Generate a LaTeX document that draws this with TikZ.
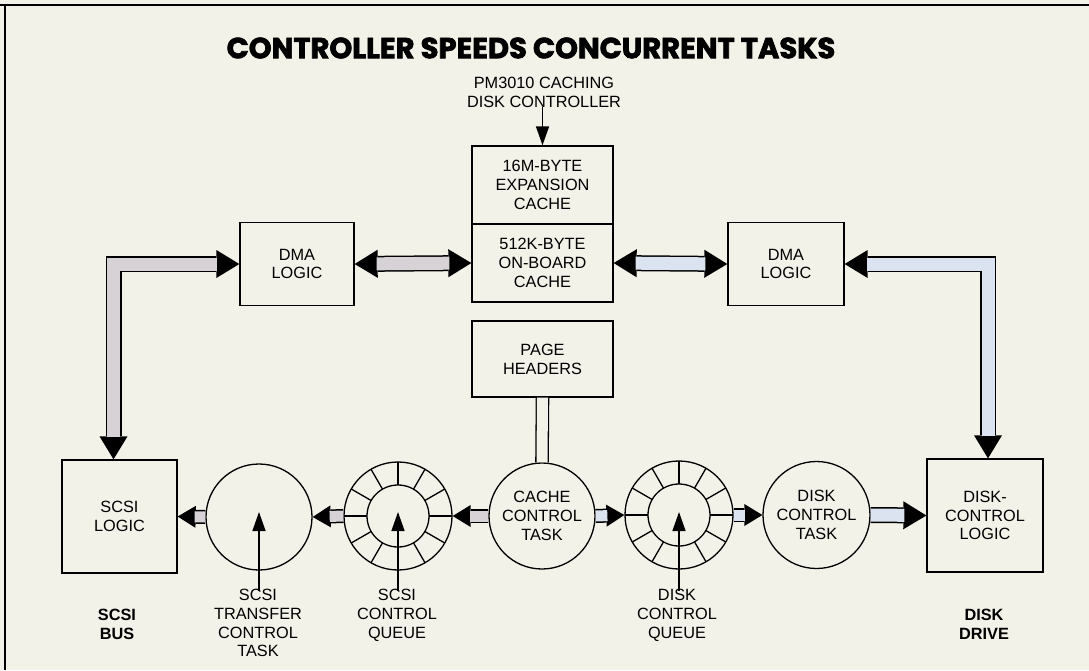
\documentclass[tikz,border=0pt]{standalone}
\usepackage{fontspec}
\setmainfont{Liberation Sans}
\newfontfamily\titlefont{Poppins}[BoldFeatures={FakeBold=2.5}]
\usetikzlibrary{arrows.meta,calc}
\definecolor{bgc}{RGB}{243,242,232}
\definecolor{busgray}{RGB}{214,210,214}
\definecolor{busblue}{RGB}{220,227,240}
\tikzset{
  lbl/.style={font=\fontsize{16.3}{18.8}\selectfont, align=center, inner sep=0pt},
  boldlbl/.style={font=\fontsize{16.3}{18.8}\selectfont\bfseries, align=center, inner sep=0pt},
  boxnode/.style={draw, line width=1.3pt, inner sep=0pt, align=center, font=\fontsize{16.3}{18.8}\selectfont},
  circnode/.style={draw, circle, line width=1.3pt, inner sep=0pt, align=center, font=\fontsize{16.3}{18.8}\selectfont},
  bigtip/.tip={Triangle[length=23pt,width=28pt,line width=0pt]},
  smalltip/.tip={Triangle[length=18pt,width=22pt,line width=0pt]},
  outbig/.style={draw=black, line width=16pt, line join=miter},
  inbig/.style={line width=13pt, line join=miter},
  outsmall/.style={draw=black, line width=14pt, line join=miter},
  insmall/.style={line width=11pt, line join=miter},
  ptr/.style={line width=1.4pt, -{Triangle[length=19pt,width=13pt]}},
}
\begin{document}
\begin{tikzpicture}[x=1pt,y=-1pt]
\fill[bgc] (0,0) rectangle (1089,670);
\useasboundingbox (0,0) rectangle (1089,670);
\draw[line width=2pt] (0,5) -- (1089,5);
\draw[line width=2pt] (5,5) -- (5,670);

% title
\node[font=\titlefont\fontsize{29}{32}\selectfont\bfseries, inner sep=0pt] (title) at (531,48) {CONTROLLER SPEEDS CONCURRENT TASKS};
\node[lbl] (pm) at (544,92) {PM3010 CACHING\\DISK CONTROLLER};

% boxes
\node[boxnode, minimum width=141pt, minimum height=78pt] (exp) at (542.5,185) {16M-BYTE\\EXPANSION\\CACHE};
\node[boxnode, minimum width=141pt, minimum height=78pt] (onb) at (542.5,263) {512K-BYTE\\ON-BOARD\\CACHE};
\node[boxnode, minimum width=114pt, minimum height=83pt] (dmaL) at (297,264) {DMA\\LOGIC};
\node[boxnode, minimum width=116pt, minimum height=83pt] (dmaR) at (786,264) {DMA\\LOGIC};
\node[boxnode, minimum width=141pt, minimum height=76pt] (ph) at (542.5,359) {PAGE\\HEADERS};
\node[boxnode, minimum width=115pt, minimum height=113pt] (sl) at (119.5,516.5) {SCSI\\LOGIC};
\node[boxnode, minimum width=116pt, minimum height=113pt] (dl) at (985,515.5) {DISK-\\CONTROL\\LOGIC};

% circles
\node[circnode, minimum size=106pt] (st) at (259,517) {};
\node[circnode, minimum size=108pt] (sq) at (398,516) {};
\node[circnode, minimum size=106pt] (cc) at (542,516) {CACHE\\CONTROL\\TASK};
\node[circnode, minimum size=108pt] (dq) at (679,515) {};
\node[circnode, minimum size=107pt] (dt) at (816.5,515) {DISK\\CONTROL\\TASK};

% queue rings
\foreach \q in {sq,dq}{
  \draw[line width=1.3pt] (\q.center) circle[radius=31pt];
  \foreach \a in {0,30,...,330}
    \draw[line width=1.3pt] ($(\q.center)+(\a:31pt)$) -- ($(\q.center)+(\a:54pt)$);
}

% bottom labels
\node[boldlbl] (sbus) at (117,624) {SCSI\\BUS};
\node[boldlbl] (ddrive) at (984,624) {DISK\\DRIVE};
\node[lbl, anchor=north] (stl) at (258,589) {SCSI\\TRANSFER\\CONTROL\\TASK};
\node[lbl, anchor=north] (sql) at (397,589) {SCSI\\CONTROL\\QUEUE};
\node[lbl, anchor=north] (dql) at (677,589) {DISK\\CONTROL\\QUEUE};

% pointer arrows
\draw[ptr] (exp.north |- pm.south) -- (exp.north);
\draw[ptr] ([yshift=-2pt]st.center |- stl.north) -- ([yshift=5pt]st.center);
\draw[ptr] ([yshift=-2pt]sq.center |- sql.north) -- ([yshift=4pt]sq.center);
\draw[ptr] ([yshift=-2pt]dq.center |- dql.north) -- ([yshift=3pt]dq.center);

% page headers link
\draw[line width=1.3pt, double=bgc, double distance=11pt] (ph.south) -- (cc.north);

% gray buses
\draw[outbig, {bigtip}-{bigtip}] ([xshift=-6pt]sl.north) |- (dmaL.west);
\draw[inbig, busgray, shorten <=22pt, shorten >=22pt] ([xshift=-6pt]sl.north) |- (dmaL.west);
\draw[outbig, {bigtip}-{bigtip}] (dmaL.east) -- (onb.west);
\draw[inbig, busgray, shorten <=22pt, shorten >=22pt] (dmaL.east) -- (onb.west);
\draw[outsmall, -{smalltip}] (cc.west) -- (sq.east);
\draw[insmall, busgray, shorten >=17pt] (cc.west) -- (sq.east);
\draw[outsmall, -{smalltip}] (sq.west) -- (st.east);
\draw[insmall, busgray, shorten >=17pt] (sq.west) -- (st.east);
\draw[outsmall, -{smalltip}] (st.west) -- (sl.east);
\draw[insmall, busgray, shorten >=17pt] (st.west) -- (sl.east);

% blue buses
\draw[outbig, {bigtip}-{bigtip}] (onb.east) -- (dmaR.west);
\draw[inbig, busblue, shorten <=22pt, shorten >=22pt] (onb.east) -- (dmaR.west);
\draw[outbig, {bigtip}-{bigtip}] (dmaR.east) -| ([xshift=3pt]dl.north);
\draw[inbig, busblue, shorten <=22pt, shorten >=22pt] (dmaR.east) -| ([xshift=3pt]dl.north);
\draw[outsmall, -{smalltip}] (cc.east) -- (dq.west);
\draw[insmall, busblue, shorten >=17pt] (cc.east) -- (dq.west);
\draw[outsmall, -{smalltip}] (dq.east) -- (dt.west);
\draw[insmall, busblue, shorten >=17pt] (dq.east) -- (dt.west);
\draw[outbig, -{bigtip}] (dt.east) -- (dl.west);
\draw[inbig, busblue, shorten >=22pt] (dt.east) -- (dl.west);
\end{tikzpicture}
\end{document}
